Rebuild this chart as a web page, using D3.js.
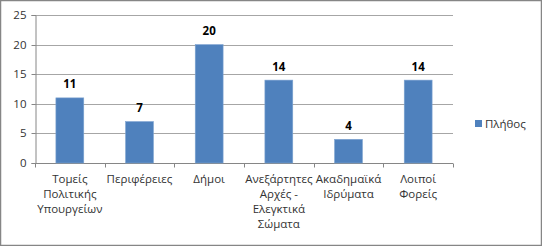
<!DOCTYPE html>
<html><head><meta charset="utf-8">
<script src="https://cdn.jsdelivr.net/npm/d3@7"></script>
<style>
html,body{margin:0;padding:0;background:#fff;}
svg{display:block;}
text{font-family:"Open Sans","Noto Sans",sans-serif;}
</style></head>
<body>
<script>
const categories = ["Τομείς\nΠολιτικής\nΥπουργείων", "Περιφέρειες", "Δήμοι", "Ανεξάρτητες\nΑρχές -\nΕλεγκτικά\nΣώματα", "Ακαδημαϊκά\nΙδρύματα", "Λοιποί\nΦορείς"];
const values = [11, 7, 20, 14, 4, 14];
const yTicks = [0, 5, 10, 15, 20, 25];
const seriesName = "Πλήθος";

const W = 542, H = 246;
const svg = d3.select("body").append("svg").attr("width", W).attr("height", H);

svg.append("rect").attr("x", 0.5).attr("y", 0.5).attr("width", W - 1).attr("height", H - 1)
  .attr("fill", "#fff").attr("stroke", "#868686").attr("stroke-width", 1.5);

const L = 35, R = 453, T = 15, B = 163;
const x = d3.scaleBand().domain(categories).range([L, R]).paddingInner(0.6).paddingOuter(0.3);
const xb = d3.scaleBand().domain(categories).range([L, R]);
const y = d3.scaleLinear().domain([0, 25]).range([B, T]);

// gridlines
svg.append("g").selectAll("line").data(yTicks.filter(d => d > 0)).join("line")
  .attr("x1", L).attr("x2", R).attr("y1", d => Math.round(y(d)) + 0.5).attr("y2", d => Math.round(y(d)) + 0.5)
  .attr("stroke", "#a6a6a6").attr("stroke-width", 1);

// y axis
const yAxis = d3.axisLeft(y).tickValues(yTicks).tickSize(4).tickPadding(5);
const gy = svg.append("g").attr("transform", `translate(${L + 0.5},0)`).call(yAxis);
gy.select(".domain").attr("stroke", "#868686");
gy.selectAll(".tick line").attr("stroke", "#868686");
gy.selectAll(".tick").attr("transform", d => `translate(0,${Math.round(y(d)) + 0.5})`);
gy.selectAll("text").attr("font-size", 11.5).attr("fill", "#333").style("font-family", '"Open Sans","Noto Sans",sans-serif');

// x axis
const gx = svg.append("g").attr("transform", `translate(0,${B + 0.5})`);
gx.append("line").attr("x1", L).attr("x2", R).attr("stroke", "#868686");
const bounds = categories.map(c => xb(c)).concat([R]);
gx.selectAll(".tk").data(bounds).join("line").attr("class", "tk")
  .attr("x1", d => Math.round(d) + 0.5).attr("x2", d => Math.round(d) + 0.5).attr("y1", 0).attr("y2", 4)
  .attr("stroke", "#868686");

// category labels
const lab = svg.append("g").selectAll("text").data(categories).join("text")
  .attr("x", d => xb(d) + xb.bandwidth() / 2).attr("y", B + 20)
  .attr("text-anchor", "middle").attr("font-size", 11.5).attr("fill", "#333");
lab.each(function(d) {
  d3.select(this).selectAll("tspan").data(d.split("\n")).join("tspan")
    .attr("x", xb(d) + xb.bandwidth() / 2).attr("dy", (t, i) => i === 0 ? 0 : 15).text(t => t);
});

// bars
svg.append("g").selectAll("rect").data(values).join("rect")
  .attr("x", (d, i) => x(categories[i])).attr("width", x.bandwidth())
  .attr("y", d => y(d)).attr("height", d => y(0) - y(d))
  .attr("fill", "#4f81bd").attr("stroke", "#7ea3d1").attr("stroke-width", 0.6);

// data labels
svg.append("g").selectAll("text").data(values).join("text")
  .attr("x", (d, i) => x(categories[i]) + x.bandwidth() / 2).attr("y", d => y(d) - 9.5)
  .attr("text-anchor", "middle").attr("font-size", 11.5).attr("font-weight", "bold").attr("fill", "#000")
  .text(d => d);

// legend
const lg = svg.append("g").attr("transform", "translate(475,120)");
lg.append("rect").attr("width", 7).attr("height", 7).attr("fill", "#4f81bd");
lg.append("text").attr("x", 10).attr("y", 7.5).attr("font-size", 11.5).attr("fill", "#333").text(seriesName);
</script>
</body></html>
